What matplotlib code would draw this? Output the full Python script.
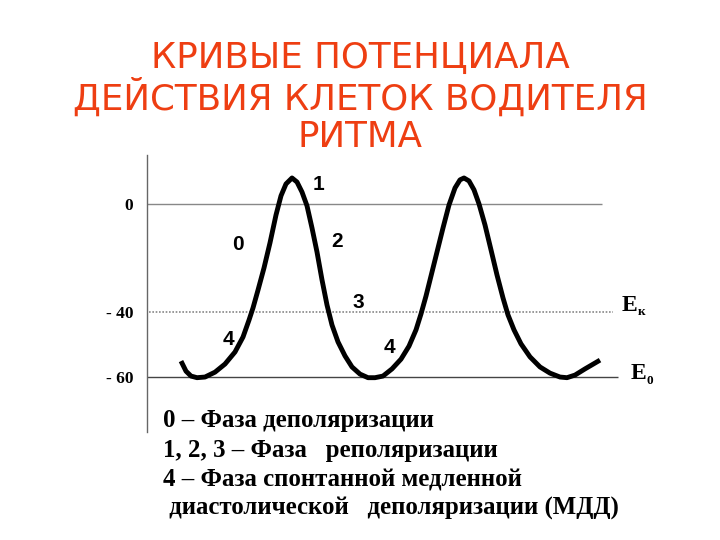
import numpy as np
import matplotlib.pyplot as plt
from matplotlib.transforms import offset_copy

# curve: time (arb. units) and membrane potential (mV)
t = [181, 186, 191, 197, 205, 215, 225, 235, 243, 249, 253, 258, 264, 270, 276,
     281, 286, 292, 297, 302, 307, 312, 317, 322, 327, 332, 338, 345, 352, 360,
     368, 375, 383, 392, 401, 409, 416, 421, 426, 431, 437, 443, 449, 455, 460,
     464, 469, 474, 479, 485, 491, 497, 503, 508, 514, 521, 530, 540, 550, 560,
     567, 575, 585, 595, 600]
v = [-55.1, -58.2, -59.7, -60.2, -60.0, -58.5, -56.0, -52.3, -47.7, -42.5, -38.5,
     -31.9, -23.7, -14.4, -4.1, 3.0, 7.4, 9.6, 8.1, 4.4, -0.7, -8.9, -17.8, -28.1,
     -37.4, -44.0, -49.2, -53.5, -56.9, -59.1, -60.2, -60.2, -59.7, -57.5, -54.5,
     -50.5, -45.5, -40.6, -34.1, -26.7, -17.8, -8.9, -0.4, 5.9, 8.9, 9.6, 8.5,
     5.2, 0.0, -7.8, -17.0, -26.3, -34.8, -40.9, -45.5, -49.8, -53.8, -56.9,
     -58.8, -60.0, -60.2, -59.4, -57.5, -55.7, -54.8]

levels = [0, -40, -60]
level_labels = ['0', '- 40', '- 60']

phase_labels = ['1', '0', '2', '3', '4', '4']
phase_t = [318, 238, 337, 358, 228, 389]
phase_v = [7.0, -15.0, -14.0, -36.5, -48.5, -51.0]

title_lines = ['КРИВЫЕ ПОТЕНЦИАЛА', 'ДЕЙСТВИЯ КЛЕТОК ВОДИТЕЛЯ', 'РИТМА']
notes = ['0 – Фаза деполяризации',
         '1, 2, 3 – Фаза   реполяризации',
         '4 – Фаза спонтанной медленной',
         ' диастолической   деполяризации (МДД)']


# the picture's voltage axis is not linear: steeper below -40
def fwd(x):
    x = np.asarray(x, dtype=float)
    return np.where(x < -40, (x + 40) * 3.25, (x + 40) * 2.7)


def inv(h):
    h = np.asarray(h, dtype=float)
    return np.where(h < 0, h / 3.25 - 40, h / 2.7 - 40)


fig = plt.figure(figsize=(7.2, 5.4), dpi=100)
fig.patch.set_facecolor('white')
ax = fig.add_axes([147 / 720, 108 / 540, (620 - 147) / 720, (432 - 155) / 540])
ax.set_yscale('function', functions=(fwd, inv))
ax.set_xlim(147, 620)
ax.set_ylim(-76.9, 18.1)

for s in ['top', 'right', 'bottom']:
    ax.spines[s].set_visible(False)
ax.spines['left'].set_color('#666666')
ax.spines['left'].set_linewidth(1.0)

ax.hlines(0, 147, 602, color='#888888', lw=1.0)
ax.hlines(-40, 139, 613, color='#888888', lw=1.2, linestyles=(0, (1, 1)))
ax.hlines(-60, 147, 618, color='#444444', lw=1.0)

ax.plot(t, v, color='black', lw=3.5, solid_capstyle='butt', solid_joinstyle='round')

ax.set_xticks([])
ax.set_yticks(levels)
ax.set_yticklabels(level_labels, family='Liberation Serif', fontweight='bold', fontsize=12.5)
ax.yaxis.set_minor_locator(plt.NullLocator())
ax.tick_params(axis='y', length=0, pad=10)

for lab, x, y in zip(phase_labels, phase_t, phase_v):
    ax.text(x, y, lab, ha='center', va='center', fontsize=15, fontweight='bold',
            family='Liberation Sans')

# E_k and E_0 with small subscripts
for x, y, sub in [(622, -37.5, 'к'), (631, -59.0, '0')]:
    ax.text(x, y, 'E', ha='left', va='center', fontsize=17, fontweight='bold',
            family='Liberation Serif', clip_on=False)
    tr = offset_copy(ax.transData, fig=fig, x=11.5, y=-5, units='points')
    ax.text(x, y, sub, ha='left', va='center', fontsize=9.5, fontweight='bold',
            family='Liberation Serif', clip_on=False, transform=tr)

for i, line in enumerate(title_lines):
    fig.text(0.5, 1 - (58 + 39.5 * i) / 540, line, ha='center', va='center',
             fontsize=25.7, color='#EE3E12', family='DejaVu Sans')

for i, line in enumerate(notes):
    fig.text(163 / 720, 1 - (421 + 29.3 * i) / 540, line, ha='left', va='center',
             fontsize=17.9, fontweight='bold', family='Liberation Serif')

fig.savefig('out.png', dpi=100)
